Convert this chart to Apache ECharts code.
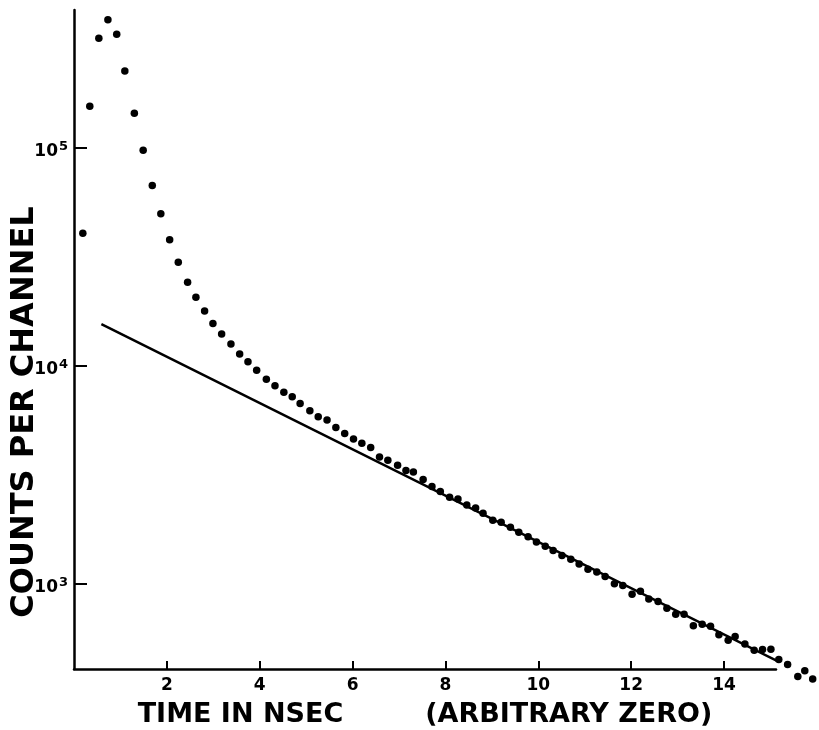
<!DOCTYPE html>
<html>
<head>
<meta charset="utf-8">
<title>Counts per channel</title>
<script src="https://cdn.jsdelivr.net/npm/echarts@6/dist/echarts.min.js"></script>
<style>
  html, body { margin: 0; padding: 0; background: #fff; }
  #chart { width: 819px; height: 730px; }
</style>
</head>
<body>
<div id="chart"></div>
<script>
// measured points (time in ns, counts per channel)
const timeNs = [
  0.19, 0.34, 0.535, 0.73, 0.92, 1.095, 1.30, 1.49, 1.686, 1.87, 2.06,
  2.246, 2.447, 2.626, 2.813, 2.992, 3.18, 3.38, 3.568, 3.747, 3.934, 4.143, 4.329, 4.52, 4.70, 4.87,
  5.08, 5.26, 5.45, 5.64, 5.83, 6.02, 6.20, 6.39, 6.58, 6.76, 6.97, 7.15, 7.31, 7.52, 7.71, 7.89,
  8.09, 8.27, 8.46, 8.65, 8.81, 9.02, 9.20, 9.40, 9.58, 9.78, 9.96, 10.15,
  10.32, 10.51, 10.70, 10.88, 11.07, 11.26, 11.44, 11.64, 11.82, 12.02, 12.20, 12.38, 12.58, 12.77,
  12.96, 13.14, 13.34, 13.53, 13.71, 13.89, 14.09, 14.24, 14.45, 14.65, 14.83, 15.01, 15.18, 15.37,
  15.59, 15.74, 15.91
];
const counts = [
  40500, 155000, 318000, 387000, 332000, 225000, 144000, 97300, 67000, 49800, 37800,
  29800, 24100, 20600, 17800, 15600, 13950, 12550, 11300, 10400, 9530, 8660, 8080, 7550, 7190, 6700,
  6200, 5820, 5620, 5200, 4880, 4600, 4400, 4210, 3810, 3680, 3490, 3300, 3250, 3000, 2790, 2640,
  2490, 2440, 2290, 2220, 2100, 1950, 1910, 1810, 1720, 1640, 1550, 1480,
  1415, 1345, 1292, 1230, 1163, 1130, 1077, 996, 979, 893, 922, 848, 827, 770,
  723, 722, 639, 650, 636, 581, 549, 571, 527, 494, 498, 499, 448, 425,
  374, 398, 364
];

// straight-line fit of the slow component
const fitX = [0.59, 15.81];
const fitCounts = [15500, 375];

// axis ticks
const xTicks = [2, 4, 6, 8, 10, 12, 14];
const yTicks = [1000, 10000, 100000];

const font = "DejaVu Sans";
const ink = "#000";

const chart = echarts.init(document.getElementById("chart"));

chart.setOption({
  animation: false,
  backgroundColor: "#fff",
  grid: { left: 74, top: 10, width: 702, height: 659, containLabel: false, outerBoundsMode: "none" },
  xAxis: {
    type: "value",
    min: 0,
    max: 15.12,
    axisLine: { lineStyle: { color: ink, width: 2.5 } },
    axisTick: { inside: true, length: 8, lineStyle: { color: ink, width: 2 }, customValues: xTicks },
    axisLabel: {
      customValues: xTicks,
      margin: 8,
      color: ink,
      fontFamily: font,
      fontWeight: "bold",
      fontSize: 17,
    },
    splitLine: { show: false },
    name: "{a|TIME IN NSEC}{gap|}{a|(ARBITRARY ZERO)}",
    nameLocation: "middle",
    nameGap: 32,
    nameTextStyle: {
      rich: {
        a: { fontFamily: font, fontSize: 27, fontWeight: "bold", color: ink },
        gap: { width: 82 },
      },
    },
  },
  yAxis: {
    type: "log",
    logBase: 10,
    min: 405,
    max: 428500,
    axisLine: { lineStyle: { color: ink, width: 2.5 } },
    axisTick: { inside: true, length: 13, lineStyle: { color: ink, width: 2 }, customValues: yTicks },
    axisLabel: {
      customValues: yTicks,
      margin: 6,
      padding: [8, 0, 0, 0],
      formatter: (v) => "{b|10}{s|" + Math.round(Math.log10(v)) + "}",
      rich: {
        b: { fontFamily: font, fontSize: 17, fontWeight: "bold", color: ink },
        s: { fontFamily: font, fontSize: 13, fontWeight: "bold", color: ink, verticalAlign: "top", padding: [0, 0, 10, 1] },
      },
    },
    splitLine: { show: false },
  },
  graphic: [
    {
      type: "text",
      x: 25,
      y: 412,
      rotation: Math.PI / 2,
      style: {
        text: "COUNTS PER CHANNEL",
        fontFamily: font,
        fontSize: 32,
        fontWeight: "bold",
        fill: ink,
        align: "center",
        verticalAlign: "middle",
      },
    },
  ],
  series: [
    {
      type: "line",
      data: fitX.map((x, i) => [x, fitCounts[i]]),
      symbol: "none",
      clip: false,
      lineStyle: { color: ink, width: 2.5 },
      z: 2,
    },
    {
      type: "scatter",
      data: timeNs.map((t, i) => [t, counts[i]]),
      symbol: "circle",
      symbolSize: 7.5,
      clip: false,
      itemStyle: { color: ink, opacity: 1 },
      z: 3,
    },
  ],
});
</script>
</body>
</html>
